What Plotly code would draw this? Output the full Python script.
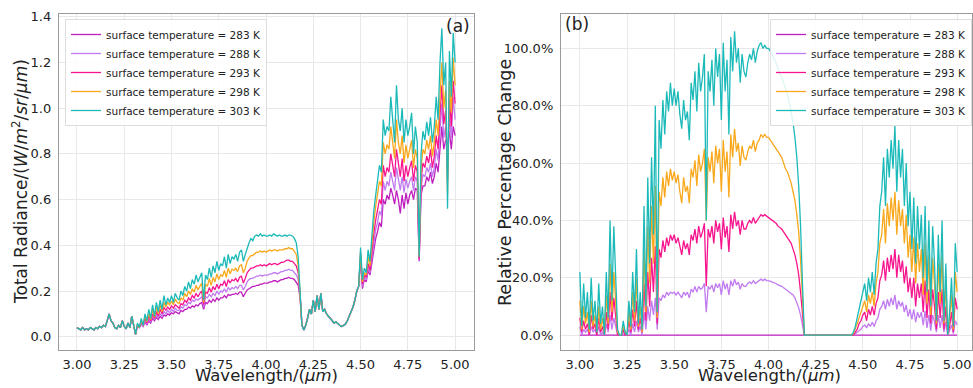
import numpy as np
import plotly.graph_objects as go

# ---------------- data ----------------
wavelength = np.round(np.arange(3.00, 5.0001, 0.01), 2)

series_names = ["surface temperature = 283 K", "surface temperature = 288 K",
                "surface temperature = 293 K", "surface temperature = 298 K",
                "surface temperature = 303 K"]
series_colors = ["#bf1fbf", "#c17bf0", "#f7158f", "#f9a81c", "#1cb9b9"]

x_ticks = [3.00, 3.25, 3.50, 3.75, 4.00, 4.25, 4.50, 4.75, 5.00]
x_tick_text = ["3.00", "3.25", "3.50", "3.75", "4.00", "4.25", "4.50", "4.75", "5.00"]
rad_ticks = [0.0, 0.2, 0.4, 0.6, 0.8, 1.0, 1.2, 1.4]
rad_tick_text = ["0.0", "0.2", "0.4", "0.6", "0.8", "1.0", "1.2", "1.4"]
pct_ticks = [0, 20, 40, 60, 80, 100]
pct_tick_text = ["0.0%", "20.0%", "40.0%", "60.0%", "80.0%", "100.0%"]

# panel (a): radiance, shared segments 3.00-3.29 and 4.20-4.49
rad_common_start = [0.04, 0.035, 0.03, 0.04, 0.03, 0.035, 0.03, 0.04, 0.035, 0.03,
                    0.04, 0.035, 0.045, 0.04, 0.05, 0.045, 0.07, 0.10, 0.07, 0.06,
                    0.04, 0.035, 0.05, 0.04, 0.07, 0.045, 0.035, 0.06, 0.04, 0.09]
rad_common_gap = [0.03, 0.05, 0.08, 0.12, 0.10, 0.16, 0.11, 0.18, 0.12, 0.19,
                  0.11, 0.12, 0.10, 0.09, 0.08, 0.07, 0.06, 0.065, 0.055, 0.05,
                  0.045, 0.05, 0.055, 0.07, 0.09, 0.11, 0.13, 0.16, 0.20, 0.22]

# 3.30-4.19
rad_283_band1 = [0.05, 0.01, 0.05, 0.04, 0.055, 0.045, 0.065, 0.05, 0.07, 0.06,
                 0.08, 0.07, 0.085, 0.075, 0.09, 0.08, 0.095, 0.09, 0.10, 0.095,
                 0.105, 0.10, 0.11, 0.105, 0.10, 0.115, 0.11, 0.12, 0.12, 0.13,
                 0.125, 0.135, 0.13, 0.14, 0.135, 0.145, 0.15, 0.12, 0.15, 0.145,
                 0.16, 0.15, 0.165, 0.155, 0.17, 0.16, 0.17, 0.17, 0.18, 0.17,
                 0.185, 0.18, 0.185, 0.185, 0.19, 0.185, 0.195, 0.195, 0.175, 0.19,
                 0.205, 0.21, 0.215, 0.22, 0.22, 0.225, 0.225, 0.23, 0.23, 0.235,
                 0.235, 0.235, 0.24, 0.24, 0.245, 0.245, 0.24, 0.245, 0.25, 0.25,
                 0.255, 0.255, 0.26, 0.255, 0.255, 0.25, 0.24, 0.225, 0.17, 0.05]
rad_288_band1 = [0.05, 0.01, 0.05, 0.04, 0.06, 0.045, 0.07, 0.055, 0.08, 0.065,
                 0.09, 0.075, 0.095, 0.085, 0.10, 0.09, 0.11, 0.10, 0.115, 0.105,
                 0.12, 0.11, 0.125, 0.115, 0.115, 0.13, 0.125, 0.14, 0.135, 0.15,
                 0.145, 0.16, 0.155, 0.165, 0.16, 0.17, 0.175, 0.13, 0.175, 0.17,
                 0.185, 0.175, 0.19, 0.18, 0.20, 0.185, 0.20, 0.195, 0.21, 0.195,
                 0.215, 0.205, 0.215, 0.21, 0.22, 0.21, 0.225, 0.225, 0.205, 0.22,
                 0.24, 0.25, 0.255, 0.255, 0.26, 0.265, 0.265, 0.27, 0.265, 0.27,
                 0.27, 0.27, 0.275, 0.275, 0.28, 0.28, 0.275, 0.28, 0.285, 0.285,
                 0.29, 0.29, 0.295, 0.29, 0.29, 0.28, 0.27, 0.25, 0.18, 0.05]
rad_293_band1 = [0.05, 0.01, 0.05, 0.04, 0.065, 0.05, 0.08, 0.06, 0.09, 0.07,
                 0.10, 0.08, 0.11, 0.09, 0.12, 0.10, 0.13, 0.115, 0.13, 0.12,
                 0.135, 0.125, 0.14, 0.13, 0.125, 0.145, 0.14, 0.16, 0.15, 0.17,
                 0.16, 0.18, 0.17, 0.19, 0.175, 0.19, 0.20, 0.14, 0.195, 0.19,
                 0.215, 0.195, 0.22, 0.205, 0.23, 0.21, 0.23, 0.225, 0.245, 0.22,
                 0.25, 0.235, 0.25, 0.245, 0.255, 0.24, 0.26, 0.265, 0.235, 0.255,
                 0.28, 0.29, 0.30, 0.30, 0.305, 0.31, 0.31, 0.315, 0.31, 0.315,
                 0.31, 0.315, 0.32, 0.315, 0.32, 0.32, 0.315, 0.32, 0.325, 0.325,
                 0.33, 0.335, 0.335, 0.33, 0.33, 0.32, 0.31, 0.28, 0.19, 0.05]
rad_298_band1 = [0.05, 0.01, 0.055, 0.04, 0.07, 0.05, 0.09, 0.065, 0.10, 0.075,
                 0.12, 0.085, 0.13, 0.10, 0.14, 0.11, 0.15, 0.13, 0.15, 0.14,
                 0.155, 0.14, 0.165, 0.15, 0.145, 0.17, 0.16, 0.19, 0.175, 0.20,
                 0.185, 0.21, 0.195, 0.225, 0.205, 0.22, 0.235, 0.15, 0.23, 0.22,
                 0.255, 0.225, 0.26, 0.24, 0.275, 0.25, 0.27, 0.265, 0.29, 0.26,
                 0.30, 0.275, 0.295, 0.29, 0.30, 0.285, 0.31, 0.315, 0.28, 0.30,
                 0.33, 0.345, 0.355, 0.355, 0.365, 0.37, 0.37, 0.375, 0.37, 0.375,
                 0.37, 0.375, 0.38, 0.375, 0.38, 0.38, 0.375, 0.38, 0.38, 0.38,
                 0.385, 0.385, 0.39, 0.385, 0.385, 0.375, 0.36, 0.31, 0.20, 0.05]
rad_303_band1 = [0.05, 0.01, 0.06, 0.04, 0.08, 0.05, 0.10, 0.07, 0.12, 0.08,
                 0.14, 0.09, 0.15, 0.11, 0.16, 0.12, 0.18, 0.14, 0.17, 0.15,
                 0.18, 0.15, 0.19, 0.17, 0.16, 0.20, 0.18, 0.22, 0.20, 0.24,
                 0.21, 0.25, 0.23, 0.27, 0.24, 0.26, 0.28, 0.16, 0.27, 0.25,
                 0.30, 0.26, 0.31, 0.28, 0.33, 0.29, 0.32, 0.31, 0.35, 0.30,
                 0.36, 0.32, 0.35, 0.34, 0.36, 0.33, 0.37, 0.38, 0.33, 0.36,
                 0.39, 0.41, 0.43, 0.42, 0.44, 0.445, 0.44, 0.45, 0.44, 0.445,
                 0.44, 0.44, 0.445, 0.44, 0.45, 0.445, 0.44, 0.445, 0.44, 0.44,
                 0.445, 0.44, 0.445, 0.445, 0.44, 0.43, 0.41, 0.35, 0.22, 0.05]

# 4.50-5.00
rad_283_band2 = [0.34, 0.21, 0.25, 0.24, 0.29, 0.27, 0.33, 0.38, 0.43, 0.46,
                 0.50, 0.48, 0.60, 0.58, 0.62, 0.60, 0.65, 0.62, 0.58, 0.64,
                 0.60, 0.54, 0.62, 0.56, 0.63, 0.58, 0.62, 0.64, 0.60, 0.65,
                 0.64, 0.33, 0.62, 0.66, 0.66, 0.70, 0.68, 0.72, 0.67, 0.70,
                 0.76, 0.72, 0.84, 0.92, 0.82, 0.86, 0.84, 0.90, 0.82, 0.92,
                 0.88]
rad_288_band2 = [0.35, 0.22, 0.26, 0.25, 0.30, 0.28, 0.35, 0.41, 0.47, 0.50,
                 0.55, 0.53, 0.68, 0.64, 0.68, 0.66, 0.72, 0.68, 0.64, 0.74,
                 0.68, 0.64, 0.70, 0.63, 0.69, 0.65, 0.68, 0.70, 0.64, 0.70,
                 0.68, 0.34, 0.65, 0.71, 0.70, 0.74, 0.72, 0.76, 0.70, 0.74,
                 0.82, 0.77, 0.90, 1.02, 0.87, 0.92, 0.72, 0.97, 0.87, 1.05,
                 0.95]
rad_293_band2 = [0.36, 0.23, 0.27, 0.26, 0.32, 0.29, 0.38, 0.45, 0.51, 0.55,
                 0.60, 0.58, 0.75, 0.70, 0.74, 0.72, 0.80, 0.75, 0.70, 0.82,
                 0.75, 0.70, 0.78, 0.68, 0.75, 0.70, 0.74, 0.77, 0.68, 0.75,
                 0.72, 0.34, 0.69, 0.76, 0.74, 0.79, 0.76, 0.82, 0.74, 0.79,
                 0.88, 0.82, 0.97, 1.10, 0.93, 0.99, 0.68, 1.04, 0.92, 1.12,
                 1.02]
rad_298_band2 = [0.37, 0.24, 0.28, 0.27, 0.35, 0.31, 0.42, 0.50, 0.57, 0.62,
                 0.68, 0.66, 0.85, 0.80, 0.84, 0.82, 0.92, 0.85, 0.78, 0.95,
                 0.85, 0.80, 0.88, 0.76, 0.84, 0.78, 0.82, 0.86, 0.74, 0.82,
                 0.78, 0.35, 0.74, 0.82, 0.80, 0.86, 0.82, 0.88, 0.79, 0.85,
                 0.95, 0.88, 1.05, 1.20, 1.00, 1.08, 0.62, 1.12, 0.98, 1.22,
                 1.10]
rad_303_band2 = [0.39, 0.25, 0.30, 0.28, 0.38, 0.33, 0.45, 0.55, 0.62, 0.68,
                 0.75, 0.72, 0.95, 0.88, 0.92, 0.90, 1.05, 0.95, 0.85, 1.10,
                 0.95, 0.90, 1.00, 0.85, 0.95, 0.88, 0.92, 0.98, 0.80, 0.92,
                 0.85, 0.35, 0.80, 0.90, 0.86, 0.94, 0.88, 0.96, 0.85, 0.92,
                 1.05, 0.95, 1.20, 1.35, 1.10, 1.20, 0.56, 1.25, 1.05, 1.33,
                 1.20]

# panel (b): relative percentage change (%), 3.00-5.00 step 0.01
pct_283_wl = [3.00, 5.00]
pct_283 = [0.0, 0.0]
pct_288 = [3, 0, 2, 1, 2, 0, 3, 1, 2, 0,
           3, 0, 1, 0, 4, 1, 7, 2, 6, 3,
           0, 0, 0, 1, 0, 0, 2, 0, 4, 1,
           5, 1, 3, 0, 8, 2, 10, 5, 12, 7,
           13, 2, 13, 12, 14, 13, 15, 14, 15, 14.5,
           15, 14, 15, 14, 13, 15, 14, 15, 13, 16,
           15, 17, 15, 17, 16, 16.5, 18, 8, 17, 16,
           17.5, 15, 18, 16.5, 18, 14, 19, 16, 18, 14,
           19, 17, 19.5, 17.5, 18.5, 16, 18, 17, 17, 18,
           18.5, 18, 19, 18, 18.5, 19, 19.5, 19, 19.5, 19,
           19, 18.8, 18.5, 18.3, 18, 17.5, 17.3, 17, 16.5, 16,
           15.5, 15, 14.5, 14, 13, 11.5, 9.5, 7, 3, 0,
           0, 0, 0, 0, 0, 0, 0, 0, 0, 0,
           0, 0, 0, 0, 0, 0, 0, 0, 0, 0,
           0, 0, 0, 0, 0, 0, 0.5, 1, 1.5, 2,
           3, 3.5, 2.5, 4, 3, 4.5, 3, 5, 6, 9,
           10, 12, 9, 12.5, 10, 13, 10.5, 14, 9, 12,
           10, 11.5, 8, 10.5, 6.5, 9, 5.5, 9, 4.5, 8,
           6, 8, 3.5, 8.5, 2.5, 7, 1.5, 7, 4.5, 1,
           7, 2.5, 7, 1, 4.5, 0, 1.5, 3.5, 0.5, 5,
           3.5]
pct_293 = [6, 1, 5, 2, 4, 0, 7, 2, 4, 0,
           6, 1, 3, 0, 8, 2, 15, 5, 13, 7,
           0, 0, 0, 2, 0, 0, 5, 1, 9, 3,
           12, 2, 6, 1, 18, 5, 22, 10, 27, 15,
           31, 4, 30, 27, 33, 29, 34, 31, 35, 33,
           35, 32, 34, 31, 28, 33, 30, 32, 28, 35,
           33, 37, 32, 38, 34, 36, 39, 17, 37, 34,
           38, 32, 40, 36, 39, 30, 41, 34, 38, 29,
           42, 37, 43, 38, 40, 35, 40, 37, 37, 39,
           40, 39, 41, 39, 40, 41, 42, 41.5, 42, 41.5,
           41, 40.5, 40, 39.5, 39, 38, 37.5, 37, 36, 35,
           34, 33, 32, 30, 28, 25, 21, 15, 7, 0,
           0, 0, 0, 0, 0, 0, 0, 0, 0, 0,
           0, 0, 0, 0, 0, 0, 0, 0, 0, 0,
           0, 0, 0, 0, 0, 0, 1, 2, 4, 5,
           7, 8, 5, 9, 7, 10, 7, 11, 13, 19,
           21, 26, 19, 27, 22, 28, 23, 30, 20, 28,
           22, 26, 18, 24, 15, 20, 13, 20, 10, 18,
           13, 18, 8, 19, 6, 16, 4, 16, 10, 2,
           15, 6, 16, 2, 10, 0, 3, 8, 1, 13,
           9]
pct_298 = [12, 2, 10, 4, 8, 1, 12, 3, 7, 1,
           10, 2, 6, 0, 14, 4, 25, 8, 22, 12,
           1, 0, 0, 3, 1, 0, 8, 2, 15, 5,
           20, 3, 10, 1, 30, 8, 38, 18, 45, 25,
           52, 6, 50, 45, 55, 48, 57, 52, 58, 54,
           57, 53, 56, 50, 46, 55, 50, 52, 46, 58,
           55, 61, 52, 63, 57, 60, 65, 40, 62, 57,
           64, 53, 66, 60, 65, 50, 68, 57, 64, 48,
           70, 62, 72, 64, 67, 59, 66, 62, 61, 64,
           66, 65, 68, 64, 67, 68, 70, 69, 70, 69,
           69, 68, 67, 66, 65, 64, 63, 62, 60, 58,
           57, 55, 53, 50, 47, 42, 36, 26, 12, 0,
           0, 0, 0, 0, 0, 0, 0, 0, 0, 0,
           0, 0, 0, 0, 0, 0, 0, 0, 0, 0,
           0, 0, 0, 0, 0, 0.5, 2, 4, 6, 8,
           10, 12, 8, 14, 11, 15, 10, 18, 22, 32,
           35, 44, 32, 46, 38, 48, 40, 50, 35, 47,
           38, 44, 32, 42, 27, 35, 22, 34, 18, 32,
           22, 30, 14, 32, 11, 28, 7, 27, 18, 4,
           25, 11, 28, 4, 18, 0, 6, 14, 2, 22,
           15]
pct_303 = [22, 3, 18, 6, 15, 2, 20, 5, 12, 1,
           18, 4, 10, 0, 22, 6, 40, 12, 38, 20,
           2, 0, 0, 5, 1, 0, 12, 3, 22, 8,
           30, 4, 15, 2, 45, 10, 55, 25, 62, 35,
           80, 8, 75, 65, 82, 70, 85, 78, 88, 80,
           86, 80, 85, 77, 72, 82, 75, 78, 68, 88,
           82, 92, 78, 95, 85, 90, 98, 40, 92, 85,
           96, 80, 100, 90, 98, 75, 102, 85, 96, 70,
           104, 92, 106, 95, 100, 88, 98, 92, 90, 95,
           98, 96, 100, 95, 99, 101, 102, 100, 101, 100,
           100, 99, 98, 96, 95, 93, 91, 90, 88, 86,
           84, 81, 78, 74, 69, 62, 52, 38, 18, 0,
           0, 0, 0, 0, 0, 0, 0, 0, 0, 0,
           0, 0, 0, 0, 0, 0, 0, 0, 0, 0,
           0, 0, 0, 0, 0, 1, 3, 6, 9, 12,
           15, 18, 12, 20, 15, 22, 14, 25, 30, 45,
           50, 62, 45, 65, 55, 68, 58, 73, 50, 68,
           55, 65, 45, 60, 38, 50, 30, 48, 25, 45,
           30, 42, 20, 45, 15, 40, 10, 38, 25, 5,
           35, 15, 40, 5, 25, 0, 8, 20, 3, 32,
           22]

# ---------------- figure ----------------
rad_series = [
    rad_common_start + rad_283_band1 + rad_common_gap + rad_283_band2,
    rad_common_start + rad_288_band1 + rad_common_gap + rad_288_band2,
    rad_common_start + rad_293_band1 + rad_common_gap + rad_293_band2,
    rad_common_start + rad_298_band1 + rad_common_gap + rad_298_band2,
    rad_common_start + rad_303_band1 + rad_common_gap + rad_303_band2,
]
pct_series = [(pct_283_wl, pct_283), (wavelength, pct_288), (wavelength, pct_293),
              (wavelength, pct_298), (wavelength, pct_303)]

FONT = "DejaVu Sans"
TXT = "#222222"
fig = go.Figure()
for name, color, ys in zip(series_names, series_colors, rad_series):
    fig.add_trace(go.Scatter(x=wavelength, y=ys, mode="lines", name=name,
                             line=dict(color=color, width=1.3),
                             xaxis="x", yaxis="y", legend="legend"))
for name, color, (xs, ys) in zip(series_names, series_colors, pct_series):
    fig.add_trace(go.Scatter(x=xs, y=ys, mode="lines", name=name,
                             line=dict(color=color, width=1.3),
                             xaxis="x2", yaxis="y2", legend="legend2"))

W, H = 973, 388
axis_common = dict(showline=True, linecolor="#9a9a9a", linewidth=1.3, mirror=True,
                   showgrid=True, gridcolor="#e8e8e8", gridwidth=1,
                   zeroline=False, automargin=False, tickmode="array",
                   ticks="outside", tickcolor="rgba(0,0,0,0)",
                   tickfont=dict(family=FONT, size=13, color=TXT))

leg_common = dict(font=dict(family=FONT, size=10.5, color=TXT),
                  bgcolor="rgba(255,255,255,0.85)", bordercolor="#dddddd",
                  borderwidth=1, itemwidth=30, tracegroupgap=0,
                  xanchor="left", yanchor="top")

fig.update_layout(
    width=W, height=H,
    margin=dict(l=0, r=0, t=0, b=0),
    paper_bgcolor="white", plot_bgcolor="white",
    font=dict(family=FONT, color=TXT),
    xaxis=dict(axis_common, domain=[59 / W, 474 / W], range=[2.905, 5.10],
               tickvals=x_ticks, ticktext=x_tick_text, ticklen=2, anchor="y"),
    yaxis=dict(axis_common, domain=[1 - 350 / H, 1 - 14 / H], range=[-0.058, 1.412],
               tickvals=rad_ticks, ticktext=rad_tick_text, ticklen=4, anchor="x"),
    xaxis2=dict(axis_common, domain=[561 / W, 971.5 / W], range=[2.90, 5.076],
                tickvals=x_ticks, ticktext=x_tick_text, ticklen=2, anchor="y2"),
    yaxis2=dict(axis_common, domain=[1 - 350 / H, 1 - 14 / H], range=[-5.2, 112],
                tickvals=pct_ticks, ticktext=pct_tick_text, ticklen=4, anchor="x2"),
    legend=dict(leg_common, x=65 / W, y=1 - 19 / H),
    legend2=dict(leg_common, x=770 / W, y=1 - 19 / H),
    annotations=[
        dict(text="(a)", x=472 / W, y=1 - 14 / H, xref="paper", yref="paper",
             xanchor="right", yanchor="top", showarrow=False,
             font=dict(family=FONT, size=17, color=TXT)),
        dict(text="(b)", x=563 / W, y=1 - 12 / H, xref="paper", yref="paper",
             xanchor="left", yanchor="top", showarrow=False,
             font=dict(family=FONT, size=17, color=TXT)),
        dict(text="Wavelength/(<i>μm</i>)", x=266.5 / W, y=0, yshift=1,
             xref="paper", yref="paper", xanchor="center", yanchor="bottom",
             showarrow=False, font=dict(family=FONT, size=16.5, color=TXT)),
        dict(text="Wavelength/(<i>μm</i>)", x=769 / W, y=0, yshift=1,
             xref="paper", yref="paper", xanchor="center", yanchor="bottom",
             showarrow=False, font=dict(family=FONT, size=16.5, color=TXT)),
        dict(text="Total Radiance/(<i>W</i>/<i>m</i><sup>2</sup>/<i>sr</i>/<i>μm</i>)",
             x=20 / W, y=1 - 182 / H, xref="paper", yref="paper",
             xanchor="center", yanchor="middle", textangle=-90, showarrow=False,
             font=dict(family=FONT, size=17, color=TXT)),
        dict(text="Relative Percentage Change", x=505 / W, y=1 - 182 / H,
             xref="paper", yref="paper", xanchor="center", yanchor="middle",
             textangle=-90, showarrow=False,
             font=dict(family=FONT, size=17.5, color=TXT)),
    ],
)

fig.write_html("out.html")
